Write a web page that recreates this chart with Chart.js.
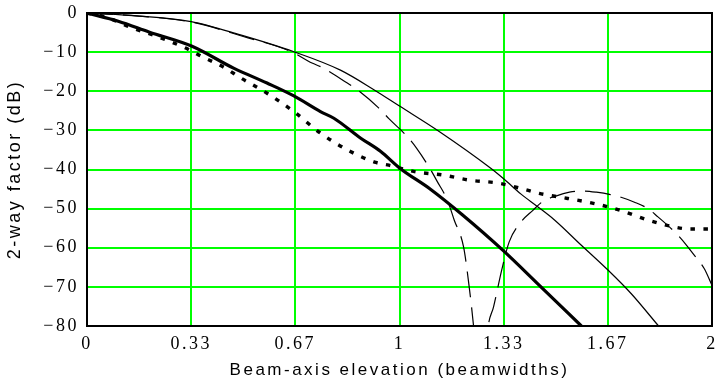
<!DOCTYPE html>
<html>
<head>
<meta charset="utf-8">
<script src="https://cdn.jsdelivr.net/npm/chart.js@4.4.1/dist/chart.umd.min.js"></script>
<style>
  html, body { margin: 0; padding: 0; background: #fff; }
  #wrap { position: relative; width: 715px; height: 383px; }
</style>
</head>
<body>
<div id="wrap"><canvas id="c"></canvas></div>
<script>
// Axis ticks
const xTickValues = [0, 1/3, 2/3, 1, 4/3, 5/3, 2];
const xTickLabels = ['0', '0.33', '0.67', '1', '1.33', '1.67', '2'];
const yTickValues = [0, -10, -20, -30, -40, -50, -60, -70, -80];
const yTickLabels = ['0', '\u221210', '\u221220', '\u221230', '\u221240', '\u221250', '\u221260', '\u221270', '\u221280'];

// Thick solid curve
const thickX = [0, 0.1, 0.2, 0.336, 0.469, 0.576, 0.662, 0.747, 0.79, 0.876, 0.94, 1.0, 1.1, 1.2, 1.333, 1.45, 1.582];
const thickY = [0, -2.1, -4.9, -8.5, -14.1, -17.9, -21.2, -25.2, -26.9, -32.0, -35.4, -39.6, -45.1, -51.5, -60.8, -69.8, -80];

// Thin solid curve
const thinX = [0, 0.167, 0.333, 0.491, 0.662, 0.811, 0.918, 1.0, 1.127, 1.292, 1.335, 1.389, 1.442, 1.496, 1.581, 1.667, 1.741, 1.829];
const thinY = [0, -0.8, -2.2, -5.6, -9.9, -14.6, -19.6, -23.8, -30.3, -39.7, -42.5, -46.3, -49.5, -52.9, -59.3, -65.7, -71.7, -80];

// Dotted curve
const dotX = [0, 0.058, 0.138, 0.227, 0.314, 0.357, 0.443, 0.49, 0.576, 0.662, 0.747, 0.843, 0.924, 0.966, 1.052, 1.138, 1.222, 1.318, 1.405, 1.447, 1.538, 1.624, 1.709, 1.795, 1.886, 1.929, 2.0];
const dotY = [0, -1.0, -3.6, -6.1, -8.9, -10.7, -14.1, -16.5, -20.5, -25.2, -30.7, -35.4, -38.2, -38.9, -40.6, -41.4, -42.7, -43.5, -45.2, -46.1, -47.4, -48.7, -50.5, -52.9, -54.8, -55.2, -55.2];

// Dashed curve (deep null near 1.26 falls below the axis floor)
const dashX = [0, 0.167, 0.333, 0.5, 0.651, 0.72, 0.752, 0.833, 0.865, 0.934, 0.966, 1.025, 1.055, 1.1, 1.121, 1.153, 1.175, 1.205, 1.223, 1.237, 1.26, 1.284, 1.301, 1.327, 1.351, 1.389, 1.426, 1.458, 1.5, 1.544, 1.587, 1.63, 1.675, 1.709, 1.75, 1.793, 1.827, 1.86, 1.891, 1.918, 1.95, 1.975, 2.0];
const dashY = [0, -0.8, -2.3, -6.0, -9.8, -12.8, -13.9, -17.9, -19.6, -24.3, -27.0, -31.6, -34.6, -40.1, -43.1, -47.8, -52.9, -59.8, -70.0, -80.0, -100, -80.0, -75.1, -65.7, -58.5, -53.4, -50.5, -48.2, -46.8, -45.8, -45.5, -45.8, -46.4, -47.1, -48.3, -49.9, -52.1, -54.4, -56.8, -59.3, -62.6, -65.3, -69.6];

const pts = (xs, ys) => xs.map((x, i) => ({ x: x, y: ys[i] }));

const SPACING = '2.5px';
const textSpacing = {
  id: 'textSpacing',
  beforeLayout(chart) { chart.ctx.letterSpacing = SPACING; },
  beforeDraw(chart) { chart.ctx.letterSpacing = SPACING; }
};

const frame = {
  id: 'frame',
  afterDraw(chart) {
    const { ctx, chartArea: a } = chart;
    ctx.save();
    ctx.strokeStyle = '#000';
    ctx.lineWidth = 2;
    ctx.strokeRect(a.left, a.top, a.right - a.left, a.bottom - a.top);
    ctx.restore();
  }
};

const lineBase = { pointRadius: 0, fill: false, borderColor: '#000', cubicInterpolationMode: 'monotone' };

new Chart(document.getElementById('c'), {
  type: 'line',
  data: {
    datasets: [
      Object.assign({ data: pts(dashX, dashY), borderWidth: 1.2, borderDash: [26, 10] }, lineBase),
      Object.assign({ data: pts(thinX, thinY), borderWidth: 1.2 }, lineBase),
      Object.assign({ data: pts(dotX, dotY), borderWidth: 3.4, borderDash: [4.5, 8.5], borderCapStyle: 'butt' }, lineBase),
      Object.assign({ data: pts(thickX, thickY), borderWidth: 3.2 }, lineBase)
    ]
  },
  options: {
    responsive: true,
    maintainAspectRatio: false,
    animation: false,
    events: [],
    layout: { padding: { top: 13, right: 3, bottom: 0, left: 0 } },
    plugins: { legend: { display: false }, tooltip: { enabled: false } },
    scales: {
      x: {
        type: 'linear',
        min: 0, max: 2,
        afterBuildTicks(scale) { scale.ticks = xTickValues.map(v => ({ value: v })); },
        afterFit(scale) { scale.height = 57; scale.paddingLeft = 0; scale.paddingRight = 0; },
        ticks: {
          autoSkip: false, maxRotation: 0, padding: 7, color: '#000',
          font: { family: 'Liberation Serif', size: 18 },
          callback: (v) => xTickLabels[xTickValues.indexOf(v)]
        },
        grid: { color: '#00ff00', lineWidth: 2, drawTicks: false },
        border: { display: true, color: '#000', width: 2 },
        title: {
          display: true, text: 'Beam-axis elevation (beamwidths)', color: '#000',
          font: { family: 'Liberation Sans', size: 17 }, padding: { top: 0, bottom: 2 }
        }
      },
      y: {
        type: 'linear',
        min: -80, max: 0,
        afterBuildTicks(scale) { scale.ticks = yTickValues.map(v => ({ value: v })); },
        afterFit(scale) { scale.width = 87; scale.paddingTop = 0; scale.paddingBottom = 0; },
        ticks: {
          autoSkip: false, padding: 8, color: '#000',
          font: { family: 'Liberation Serif', size: 18 },
          callback: (v) => yTickLabels[yTickValues.indexOf(v)]
        },
        grid: { color: '#00ff00', lineWidth: 2, drawTicks: false },
        border: { display: true, color: '#000', width: 2 },
        title: {
          display: true, text: '2-way factor (dB)', color: '#000',
          font: { family: 'Liberation Sans', size: 18 }, padding: { top: 4, bottom: 0 }
        }
      }
    }
  },
  plugins: [textSpacing, frame]
});
</script>
</body>
</html>
